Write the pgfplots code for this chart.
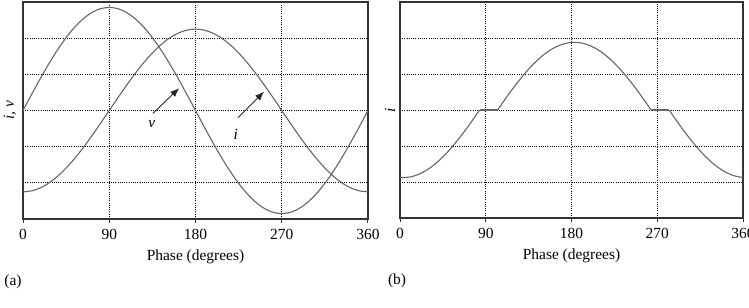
\documentclass[border=0pt]{standalone}
\usepackage{pgfplots}
\pgfplotsset{compat=1.18}
\usetikzlibrary{arrows.meta}
\usepackage{fontspec}
\setmainfont{Liberation Serif}
\begin{document}
\begin{tikzpicture}[font=\fontsize{15.5}{18}\selectfont]
\useasboundingbox (0,0) rectangle (749bp,308bp);
\pgfplotsset{
  mycurve/.style={line width=1.1bp, color=black!60, no markers, smooth},
  myflat/.style={line width=1.1bp, color=black!60, no markers, sharp plot},
  myaxis/.style={
    scale only axis,
    xmin=0, xmax=360, ymin=-3, ymax=3,
    xtick={0,90,180,270,360},
    ytick={-2,-1,0,1,2},
    yticklabels={},
    xtick pos=bottom,
    ytick pos=left,
    tick align=outside,
    major tick length=4bp,
    ytick style={draw=none},
    axis line style={line width=1.3bp, black!80},
    xtick style={line width=1bp, black!80},
    grid=major,
    major grid style={black, line width=0.9bp, dash pattern=on 1bp off 1.2bp},
    /pgf/number format/assume math mode=true,
    xticklabel style={yshift=-3bp},
    xlabel={Phase (degrees)},
    xlabel style={at={(axis description cs:0.5,-0.175)}, anchor=center},
  }
}
% ---------- panel (a) ----------
\begin{axis}[myaxis, at={(23bp,89bp)}, anchor=south west, width=345bp, height=217bp,
  ylabel={\itshape i, v},
  ylabel style={at={(axis description cs:-0.038,0.5)}, anchor=center}]
\addplot[mycurve] coordinates {(0,0)(10,0.495)(20,0.975)(30,1.425)(40,1.832)(50,2.183)(60,2.468)(70,2.678)(80,2.807)(90,2.85)
(100,2.807)(110,2.678)(120,2.468)(130,2.183)(140,1.832)(150,1.425)(160,0.975)(170,0.495)(180,0)
(190,-0.495)(200,-0.975)(210,-1.425)(220,-1.832)(230,-2.183)(240,-2.468)(250,-2.678)(260,-2.807)(270,-2.85)
(280,-2.807)(290,-2.678)(300,-2.468)(310,-2.183)(320,-1.832)(330,-1.425)(340,-0.975)(350,-0.495)(360,0)};
\addplot[mycurve] coordinates {(0,-2.25)(10,-2.216)(20,-2.114)(30,-1.949)(40,-1.724)(50,-1.446)(60,-1.125)(70,-0.770)(80,-0.391)(90,0)
(100,0.391)(110,0.770)(120,1.125)(130,1.446)(140,1.724)(150,1.949)(160,2.114)(170,2.216)(180,2.25)
(190,2.216)(200,2.114)(210,1.949)(220,1.724)(230,1.446)(240,1.125)(250,0.770)(260,0.391)(270,0)
(280,-0.391)(290,-0.770)(300,-1.125)(310,-1.446)(320,-1.724)(330,-1.949)(340,-2.114)(350,-2.216)(360,-2.25)};
\draw[-{Latex[length=9bp,width=7bp]}, line width=0.9bp, black!85] (axis cs:135.5,-0.08) -- (axis cs:163,0.62);
\draw[-{Latex[length=9bp,width=7bp]}, line width=0.9bp, black!85] (axis cs:224.4,-0.2) -- (axis cs:251.5,0.52);
\node[font=\fontsize{15.5}{18}\selectfont\itshape] at (axis cs:134.5,-0.38) {v};
\node[font=\fontsize{15.5}{18}\selectfont\itshape] at (axis cs:222,-0.65) {i};
\end{axis}
% ---------- panel (b) ----------
\begin{axis}[myaxis, at={(400bp,90bp)}, anchor=south west, width=343bp, height=216bp,
  ylabel={\itshape i},
  ylabel style={at={(axis description cs:-0.029,0.5)}, anchor=center}]
\addplot[mycurve] coordinates {(0,-1.877)(10,-1.863)(20,-1.782)(30,-1.635)(40,-1.427)(50,-1.165)(60,-0.855)(70,-0.509)(80,-0.136)(83.5,0)};
\addplot[myflat] coordinates {(83.5,0)(102.5,0)};
\addplot[mycurve] coordinates {(102.5,0)(110,0.288)(120,0.651)(130,0.984)(140,1.276)(150,1.517)(160,1.701)(170,1.822)(180,1.877)(190,1.863)(200,1.782)(210,1.635)(220,1.427)(230,1.165)(240,0.855)(250,0.509)(260,0.136)(263.5,0)};
\addplot[myflat] coordinates {(263.5,0)(282.5,0)};
\addplot[mycurve] coordinates {(282.5,0)(290,-0.288)(300,-0.651)(310,-0.984)(320,-1.276)(330,-1.517)(340,-1.701)(350,-1.822)(360,-1.877)};
\end{axis}
\node at (13bp,26bp) {(a)};
\node at (397bp,27bp) {(b)};
\end{tikzpicture}
\end{document}
